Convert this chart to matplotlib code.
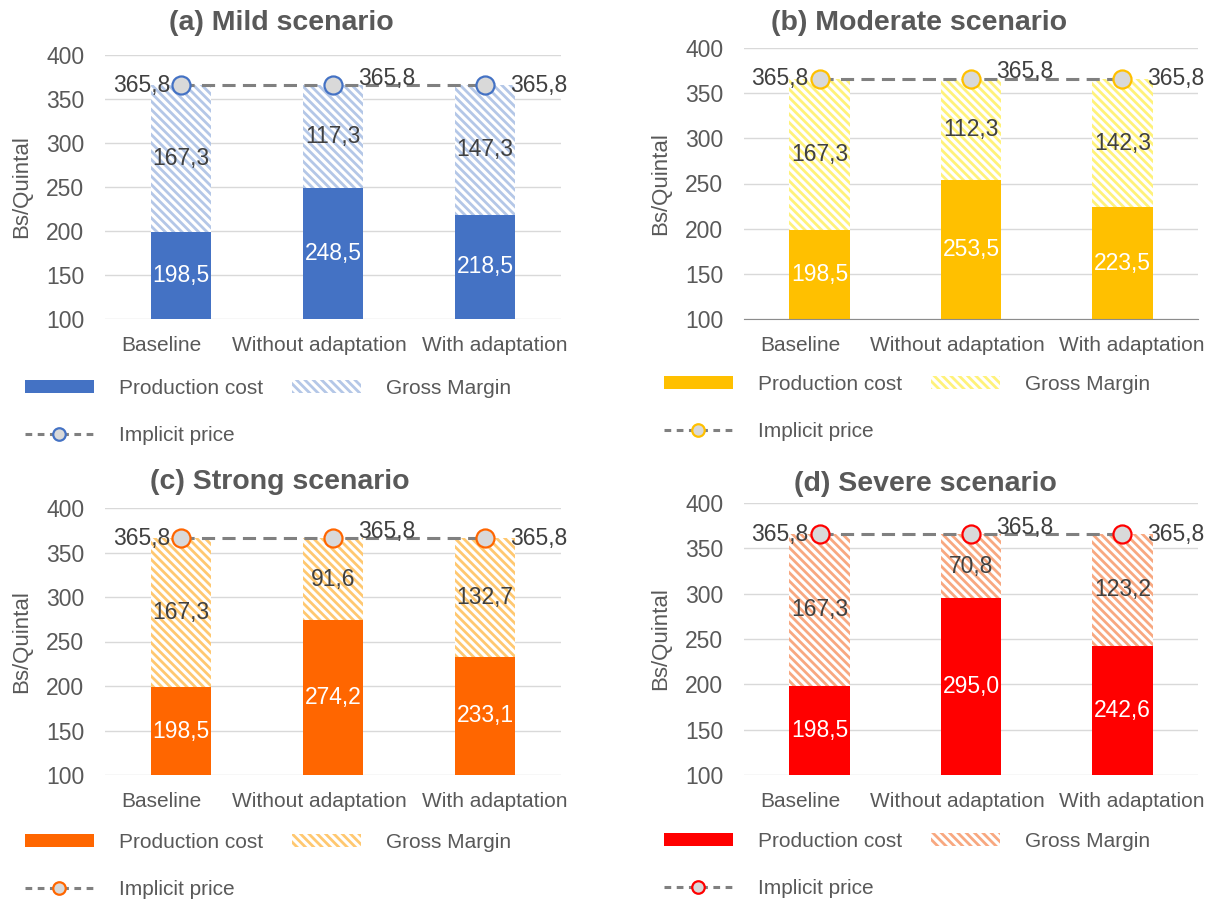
import matplotlib.pyplot as plt
from matplotlib.patches import Patch
from matplotlib.lines import Line2D

plt.rcParams['font.family'] = ['Liberation Sans', 'DejaVu Sans']
plt.rcParams['hatch.linewidth'] = 2.0

categories = ['Baseline', 'Without adaptation', 'With adaptation']
implicit_price = 365.8

titles = ['(a) Mild scenario', '(b) Moderate scenario',
          '(c) Strong scenario', '(d) Severe scenario']

cost_mild = [198.5, 248.5, 218.5]
margin_mild = [167.3, 117.3, 147.3]
cost_moderate = [198.5, 253.5, 223.5]
margin_moderate = [167.3, 112.3, 142.3]
cost_strong = [198.5, 274.2, 233.1]
margin_strong = [167.3, 91.6, 132.7]
cost_severe = [198.5, 295.0, 242.6]
margin_severe = [167.3, 70.8, 123.2]

costs = [cost_mild, cost_moderate, cost_strong, cost_severe]
margins = [margin_mild, margin_moderate, margin_strong, margin_severe]

# solid colour, hatch colour
colors = [('#4472c4', '#b4c7e7'), ('#ffc000', '#fff27a'),
          ('#ff6600', '#ffc870'), ('#ff0000', '#f8a880')]

W, H = 1210, 899
# axes boxes in pixels: left, top, right, bottom
boxes = [(105, 55, 561, 319), (744, 48, 1198, 319),
         (105, 508, 561, 775), (744, 503, 1198, 775)]
title_pos = [(281, 23), (919, 23), (280, 482), (925, 484)]
legend_pos = [(25, 379), (664, 375), (25, 833), (664, 832)]
# horizontal nudge of the category labels, points
label_shift = [-14, -9.5, 7]

y_min, y_max = 100, 400
text_gray = '#595959'
label_dark = '#404040'


def fmt(v):
    return f'{v:.1f}'.replace('.', ',')


fig = plt.figure(figsize=(W / 100, H / 100), dpi=100)

for k in range(4):
    l, t, r, b = boxes[k]
    ax = fig.add_axes([l / W, 1 - b / H, (r - l) / W, (b - t) / H])
    solid, light = colors[k]
    cost = costs[k]
    margin = margins[k]
    x = list(range(len(categories)))

    ax.bar(x, cost, width=0.4, color=solid, zorder=2)
    ax.bar(x, margin, bottom=cost, width=0.4, facecolor='white',
           edgecolor=light, hatch='\\\\\\\\', linewidth=0, zorder=2)
    ax.plot(x, [implicit_price] * len(x), color='#808080', lw=2.2,
            ls=(0, (4.3, 2.4)), marker='o', ms=13, mfc='#d9d9d9',
            mec=solid, mew=1.6, zorder=4)

    for i in x:
        ax.text(i, (y_min + cost[i]) / 2, fmt(cost[i]), color='white',
                ha='center', va='center', fontsize=16.5, zorder=5)
        ax.text(i, cost[i] + margin[i] / 2, fmt(margin[i]), color=label_dark,
                ha='center', va='center', fontsize=16.5, zorder=5)

    offsets = [(-8, 0, 'right'), (18, 5, 'left'), (18, 0, 'left')]
    for i, (dx, dy, ha) in zip(x, offsets):
        ax.annotate(fmt(implicit_price), (i, implicit_price),
                    xytext=(dx, dy), textcoords='offset points',
                    ha=ha, va='center', fontsize=16.5, color=label_dark,
                    zorder=5, annotation_clip=False)

    # category names under the bars
    for i, dx in zip(x, label_shift):
        ax.annotate(categories[i], (i, 0), xycoords=('data', 'axes fraction'),
                    xytext=(dx, -12), textcoords='offset points',
                    ha='center', va='top', fontsize=15, color=text_gray)

    ax.set_xlim(-0.5, 2.5)
    ax.set_ylim(y_min, y_max)
    ax.set_yticks(range(100, 401, 50))
    ax.set_xticks([])
    ax.yaxis.grid(True, color='#d9d9d9', lw=1.0)
    ax.set_axisbelow(True)
    for s in ax.spines.values():
        s.set_visible(False)
    if k == 1:
        ax.spines['bottom'].set_visible(True)
        ax.spines['bottom'].set_color('#8c8c8c')
    ax.tick_params(axis='y', length=0, labelsize=16.5, labelcolor=text_gray, pad=15)
    ax.set_ylabel('Bs/Quintal', fontsize=16, color=text_gray)
    ax.yaxis.set_label_coords(-73 / (r - l), 0.5)

    tx, ty = title_pos[k]
    fig.text(tx / W, 1 - ty / H, titles[k], ha='center', va='center',
             fontsize=20.5, fontweight='bold', color=text_gray)

    handles = [
        Patch(facecolor=solid),
        Line2D([], [], color='#808080', lw=2.2, ls=(0, (2.2, 1.8)),
               marker='o', ms=9, mfc='#d9d9d9', mec=solid, mew=1.6),
        Patch(facecolor='white', edgecolor=light, hatch='\\\\\\\\', linewidth=0),
    ]
    labels = ['Production cost', 'Implicit price', 'Gross Margin']
    lx, ly = legend_pos[k]
    ax.legend(handles, labels, ncol=2, loc='upper left',
              bbox_to_anchor=(lx / W, 1 - ly / H), bbox_transform=fig.transFigure,
              frameon=False, fontsize=15, labelcolor=text_gray,
              handlelength=3.3, handleheight=0.6, handletextpad=1.2,
              columnspacing=1.4, labelspacing=1.35, borderpad=0, borderaxespad=0)

fig.savefig('out.png', dpi=100)
